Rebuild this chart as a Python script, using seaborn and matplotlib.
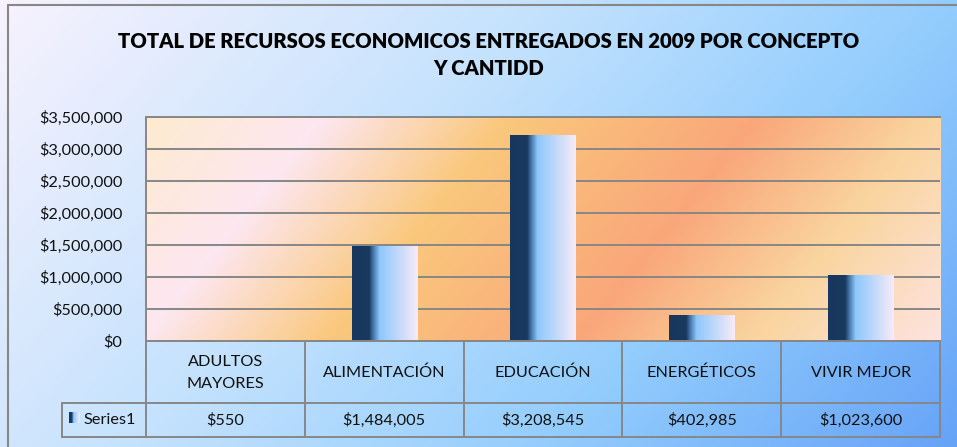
import numpy as np
import matplotlib
matplotlib.use('Agg')
import matplotlib.pyplot as plt
import matplotlib.transforms as mtransforms
from matplotlib.colors import LinearSegmentedColormap
from matplotlib.patches import Rectangle
from matplotlib.lines import Line2D
from matplotlib.ticker import FuncFormatter
import pandas as pd
import seaborn as sns

# chart data
categories = ['ADULTOS\nMAYORES', 'ALIMENTACIÓN', 'EDUCACIÓN',
              'ENERGÉTICOS', 'VIVIR MEJOR']
values = [550, 1484005, 3208545, 402985, 1023600]
value_labels = ['$550', '$1,484,005', '$3,208,545', '$402,985', '$1,023,600']
series_name = 'Series1'
yticks = [0, 500000, 1000000, 1500000, 2000000, 2500000, 3000000, 3500000]
title = ('TOTAL DE RECURSOS ECONOMICOS ENTREGADOS EN 2009 POR CONCEPTO\n'
         'Y CANTIDD')

W, H = 957, 447
GRAY = '#878787'
TXT = '#111111'

sns.set_theme(style='white')
plt.rcParams['font.family'] = ['Lato', 'DejaVu Sans']

fig = plt.figure(figsize=(W / 100, H / 100), dpi=100)


def fx(x):
    return x / W


def fy(y):
    return 1 - y / H


# figure background gradient
bg = fig.add_axes([0, 0, 1, 1], zorder=-10)
bg.axis('off')
xx, yy = np.meshgrid(np.linspace(0, 1, 400), np.linspace(0, 1, 200))
bg_cmap = LinearSegmentedColormap.from_list(
    'bg', [(0, '#f7f2fd'), (0.4, '#c4e2fd'), (0.7, '#93cdfd'),
           (1, '#66a3f7')])
bg.imshow(0.7 * xx + 0.3 * yy, cmap=bg_cmap, extent=(0, 1, 0, 1),
          aspect='auto', origin='upper', vmin=0, vmax=1)
bg.set_xlim(0, 1)
bg.set_ylim(0, 1)
bg.add_patch(Rectangle((fx(8), fy(H + 5)), fx(W), fy(5) - fy(H + 5),
                       fill=False, edgecolor=GRAY, lw=1.5,
                       transform=bg.transAxes, clip_on=False))

rect = [fx(146), fy(341), fx(940) - fx(146), fy(117) - fy(341)]

# plot area gradient
pa = fig.add_axes(rect, zorder=-5)
pa.axis('off')
xx, yy = np.meshgrid(np.linspace(0, 1, 400), np.linspace(0, 1, 120))
pa_cmap = LinearSegmentedColormap.from_list(
    'pa', [(0, '#fdebcf'), (0.18, '#fde7f1'), (0.37, '#fac87c'),
           (0.63, '#f9a77a'), (0.81, '#fad59f'), (1, '#fde3df')])
tt = (xx * 794 + 0.8 * yy * 224) / (794 + 0.8 * 224)
pa.imshow(tt, cmap=pa_cmap, extent=(0, 1, 0, 1), aspect='auto',
          origin='upper', vmin=0, vmax=1)
pa.set_xlim(0, 1)
pa.set_ylim(0, 1)

# bars
ax = fig.add_axes(rect)
ax.patch.set_visible(False)
df = pd.DataFrame({'concepto': categories, 'monto': values})
sns.barplot(data=df, x='concepto', y='monto', ax=ax, width=0.41,
            color='#17375e')

bar_cmap = LinearSegmentedColormap.from_list(
    'bar', [(0, '#17375e'), (0.26, '#19395f'), (0.31, '#3d6c9e'),
            (0.42, '#8ec8fd'), (1, '#f8ebf8')])
grad = np.linspace(0, 1, 256).reshape(1, -1)
for p in list(ax.patches):
    x0, w, h = p.get_x(), p.get_width(), p.get_height()
    p.set_visible(False)
    ax.imshow(grad, cmap=bar_cmap, extent=(x0, x0 + w, 0, h),
              aspect='auto', zorder=3)

ax.set_xlim(-0.5, len(categories) - 0.5)
ax.set_ylim(0, yticks[-1])
ax.set_yticks(yticks)
ax.yaxis.set_major_formatter(FuncFormatter(lambda v, _: f'${v:,.0f}'))
ax.tick_params(axis='y', length=0, pad=17, labelsize=11.7,
               labelcolor=TXT)
ax.set_xticks([])
ax.set_xlabel('')
ax.set_ylabel('')
ax.yaxis.grid(True, color=GRAY, lw=1.4)
ax.set_axisbelow(True)
for side in ['left', 'top', 'bottom']:
    ax.spines[side].set_visible(True)
    ax.spines[side].set_color(GRAY)
    ax.spines[side].set_linewidth(1.4)
ax.spines['right'].set_visible(False)

# data table under the axis
tr = mtransforms.blended_transform_factory(ax.transData, fig.transFigure)
n = len(categories)
for i in range(n + 1):
    fig.add_artist(Line2D([i - 0.5, i - 0.5], [fy(341), fy(437)],
                          transform=tr, color=GRAY, lw=1.4))
for y in [341, 403, 437]:
    fig.add_artist(Line2D([-0.5, n - 0.5], [fy(y), fy(y)],
                          transform=tr, color=GRAY, lw=1.4))
for i in range(n):
    fig.text(i, fy(373), categories[i], transform=tr, ha='center',
             va='center', fontsize=11.7, color=TXT, linespacing=1.65)
    fig.text(i, fy(420), value_labels[i], transform=tr, ha='center',
             va='center', fontsize=11.7, color=TXT)

fig.add_artist(Line2D([fx(62), fx(62)], [fy(403), fy(437)],
                      color=GRAY, lw=1.4))
for y in [403, 437]:
    fig.add_artist(Line2D([fx(62), fx(146)], [fy(y), fy(y)],
                          color=GRAY, lw=1.4))
key = fig.add_axes([fx(69), fy(423), fx(11), fy(412) - fy(423)])
key.imshow(grad, cmap=bar_cmap, aspect='auto')
key.axis('off')
fig.text(fx(83), fy(420), series_name, ha='left', va='center',
         fontsize=11.7, color=TXT)

fig.text(fx(489), fy(55), title, ha='center', va='center',
         fontsize=14.6, fontweight='heavy', color='black', linespacing=1.5)

fig.savefig('out.png', dpi=100)
